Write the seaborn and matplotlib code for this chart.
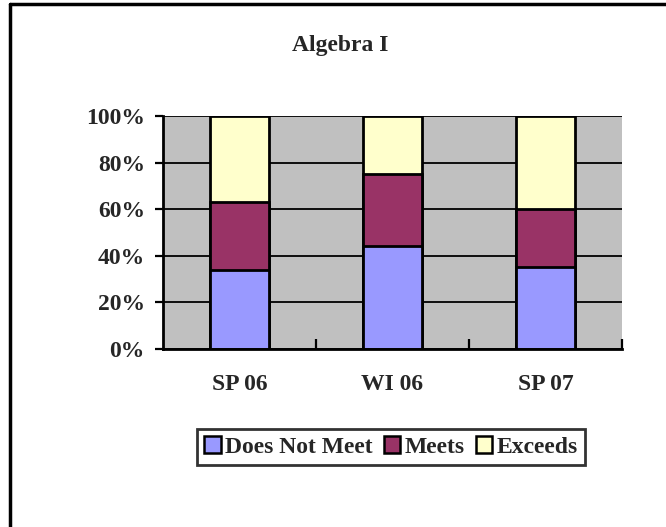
import numpy as np
import pandas as pd
import seaborn as sns
import matplotlib.pyplot as plt
from matplotlib.patches import Patch
from matplotlib.lines import Line2D
from matplotlib.ticker import PercentFormatter, FixedLocator

# data (percent of students)
terms = ["SP 06", "WI 06", "SP 07"]
does_not_meet = [34, 44, 35]
meets = [29, 31, 25]
exceeds = [37, 25, 40]

levels = ["Does Not Meet", "Meets", "Exceeds"]
colors = ["#9999FF", "#993366", "#FFFFCC"]

df = pd.DataFrame({"term": terms, "Does Not Meet": does_not_meet,
                   "Meets": meets, "Exceeds": exceeds})
# cumulative tops for stacking
df["top_dnm"] = df["Does Not Meet"]
df["top_meets"] = df["top_dnm"] + df["Meets"]
df["top_exc"] = df["top_meets"] + df["Exceeds"]

sns.set_style("white")
plt.rcParams["font.family"] = ["Liberation Serif", "DejaVu Serif"]
plt.rcParams["font.weight"] = "bold"

fig = plt.figure(figsize=(6.66, 5.27), dpi=100)
ax = fig.add_axes([163 / 666, 1 - 349 / 527, 459 / 666, 233 / 527])
ax.set_facecolor("#C0C0C0")

# draw tallest layer first so the lower ones sit on top
for col, c in zip(["top_exc", "top_meets", "top_dnm"], colors[::-1]):
    sns.barplot(data=df, x="term", y=col, color=c, width=0.39,
                edgecolor="black", linewidth=2.0, ax=ax, saturation=1)

ax.set_ylim(0, 100)
ax.set_xlim(-0.5, 2.5)
ax.set_xlabel("")
ax.set_ylabel("")
ax.yaxis.set_major_locator(FixedLocator([0, 20, 40, 60, 80, 100]))
ax.yaxis.set_major_formatter(PercentFormatter(xmax=100, decimals=0))
ax.yaxis.grid(True, color="black", linewidth=1.3)
ax.set_axisbelow(True)

for s in ["top", "right"]:
    ax.spines[s].set_visible(False)
for s in ["left", "bottom"]:
    ax.spines[s].set_color("black")
    ax.spines[s].set_linewidth(2.0)

ax.tick_params(axis="y", direction="out", length=6, width=1.6, color="black",
               labelsize=17, pad=7, left=True)
ax.tick_params(axis="x", which="major", length=0, labelsize=17, pad=18)
ax.xaxis.set_minor_locator(FixedLocator([0.5, 1.5, 2.5]))
ax.tick_params(axis="x", which="minor", direction="in", length=7, width=1.6,
               color="black", bottom=True)
for lab in ax.get_xticklabels() + ax.get_yticklabels():
    lab.set_fontweight("bold")

fig.text(340 / 666, 1 - 45 / 527, "Algebra I", ha="center", va="center",
         fontsize=17, fontweight="bold")

handles = [Patch(facecolor=c, edgecolor="black", linewidth=1.8) for c in colors]
leg = fig.legend(handles, levels, loc="center", ncol=3,
                 bbox_to_anchor=(391 / 666, 1 - 447 / 527),
                 prop={"size": 17, "weight": "bold"}, frameon=True,
                 fancybox=False, edgecolor="black", handlelength=0.7,
                 handleheight=0.7, handletextpad=0.2, columnspacing=0.45,
                 borderpad=0.3)
leg.get_frame().set_linewidth(2.0)

# outer frame, only top and left edges are visible in the original
fig.add_artist(Line2D([10 / 666, 1], [1 - 4 / 527, 1 - 4 / 527],
                      transform=fig.transFigure, color="black", lw=2.5))
fig.add_artist(Line2D([10 / 666, 10 / 666], [0, 1 - 4 / 527],
                      transform=fig.transFigure, color="black", lw=2.5))

fig.savefig("out.png", dpi=100)
